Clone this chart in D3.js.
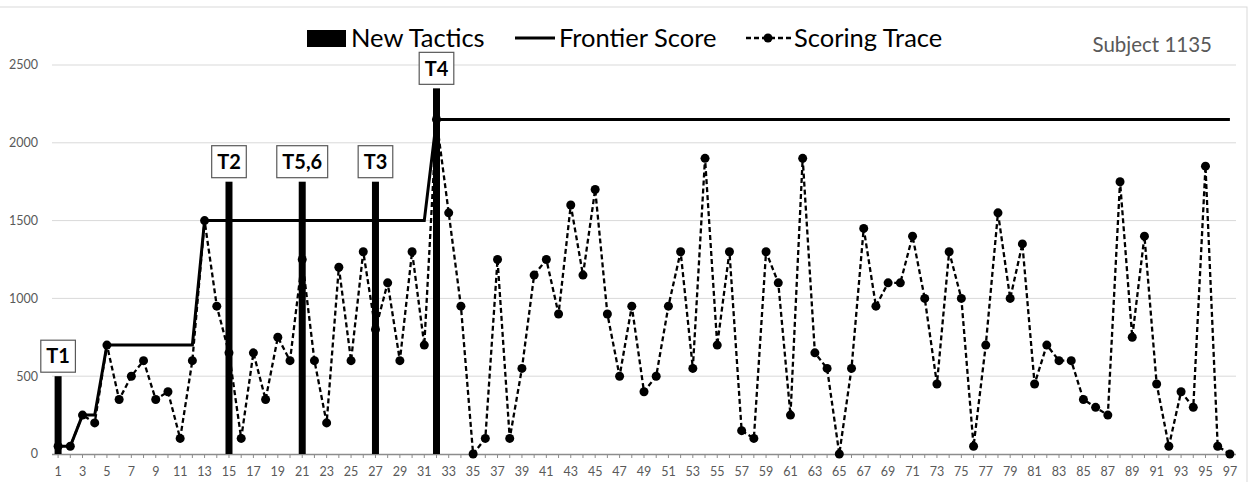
<!DOCTYPE html>
<html>
<head>
<meta charset="utf-8">
<script src="https://cdn.jsdelivr.net/npm/d3@7"></script>
<style>
  body { margin: 0; background: #fff; }
  svg { display: block; font-family: Lato, "Open Sans", sans-serif; }
</style>
</head>
<body>
<div id="chart"></div>
<script>
// trial numbers on the x axis
const trials = d3.range(1, 98);

// scoring trace (one value per trial)
const scores = [
  50, 50, 250, 200, 700, 350, 500, 600, 350, 400,
  100, 600, 1500, 950, 650, 100, 650, 350, 750, 600,
  1250, 600, 200, 1200, 600, 1300, 800, 1100, 600, 1300,
  700, 2150, 1550, 950, 0, 100, 1250, 100, 550, 1150,
  1250, 900, 1600, 1150, 1700, 900, 500, 950, 400, 500,
  950, 1300, 550, 1900, 700, 1300, 150, 100, 1300, 1100,
  250, 1900, 650, 550, 0, 550, 1450, 950, 1100, 1100,
  1400, 1000, 450, 1300, 1000, 50, 700, 1550, 1000, 1350,
  450, 700, 600, 600, 350, 300, 250, 1750, 750, 1400,
  450, 50, 400, 300, 1850, 50, 0
];

// frontier score (best so far)
const frontier = [
  50, 50, 250, 250, 700, 700, 700, 700, 700, 700,
  700, 700, 1500, 1500, 1500, 1500, 1500, 1500, 1500, 1500,
  1500, 1500, 1500, 1500, 1500, 1500, 1500, 1500, 1500, 1500,
  1500, 2150, 2150, 2150, 2150, 2150, 2150, 2150, 2150, 2150,
  2150, 2150, 2150, 2150, 2150, 2150, 2150, 2150, 2150, 2150,
  2150, 2150, 2150, 2150, 2150, 2150, 2150, 2150, 2150, 2150,
  2150, 2150, 2150, 2150, 2150, 2150, 2150, 2150, 2150, 2150,
  2150, 2150, 2150, 2150, 2150, 2150, 2150, 2150, 2150, 2150,
  2150, 2150, 2150, 2150, 2150, 2150, 2150, 2150, 2150, 2150,
  2150, 2150, 2150, 2150, 2150, 2150, 2150
];

// new tactics markers
const tacticTrials = [1, 15, 21, 27, 32];
const tacticHeights = [500, 1750, 1750, 1750, 2350];
const tacticLabels = ['T1', 'T2', 'T5,6', 'T3', 'T4'];

const yTicks = [0, 500, 1000, 1500, 2000, 2500];

const width = 1249, height = 482;
const margin = { left: 52, right: 13, top: 65, bottom: 28 };

const svg = d3.select('#chart')
  .append('svg')
  .attr('width', width)
  .attr('height', height);

// chart frame
svg.append('rect')
  .attr('x', -1).attr('y', 7)
  .attr('width', 1248).attr('height', 490)
  .attr('fill', 'none')
  .attr('stroke', '#d9d9d9');

const x = d3.scaleBand()
  .domain(trials)
  .range([margin.left, width - margin.right]);

const xc = d => x(d) + x.bandwidth() / 2;

const y = d3.scaleLinear()
  .domain([0, 2500])
  .range([height - margin.bottom, margin.top]);

// gridlines
svg.append('g')
  .selectAll('line')
  .data(yTicks.filter(d => d > 0))
  .enter()
  .append('line')
  .attr('x1', margin.left)
  .attr('x2', width - margin.right)
  .attr('y1', d => y(d))
  .attr('y2', d => y(d))
  .attr('stroke', '#d9d9d9')
  .attr('stroke-width', 1);

// y labels
svg.append('g')
  .selectAll('text')
  .data(yTicks)
  .enter()
  .append('text')
  .attr('x', 38)
  .attr('y', d => y(d))
  .attr('dy', '0.35em')
  .attr('text-anchor', 'end')
  .attr('font-size', 12.5)
  .attr('fill', '#595959')
  .text(d => d);

// x axis
const xAxis = d3.axisBottom(x)
  .tickSize(4)
  .tickFormat(d => d % 2 === 1 ? d : '');

const xg = svg.append('g')
  .attr('transform', `translate(0, ${y(0)})`)
  .call(xAxis);

xg.select('.domain')
  .attr('d', `M${margin.left},0.5H${width - margin.right}`)
  .attr('stroke', '#8c8c8c')
  .attr('stroke-width', 1.5);
xg.selectAll('.tick line').attr('stroke', '#8c8c8c');
xg.selectAll('.tick text')
  .attr('font-size', 12.5)
  .attr('fill', '#595959')
  .attr('font-family', 'Lato, "Open Sans", sans-serif')
  .attr('dy', '1.2em');

// frontier score
const frontierLine = d3.line()
  .x((d, i) => xc(trials[i]))
  .y(d => y(d));

svg.append('path')
  .datum(frontier)
  .attr('d', frontierLine)
  .attr('fill', 'none')
  .attr('stroke', '#000')
  .attr('stroke-width', 3);

// scoring trace
svg.append('path')
  .datum(scores)
  .attr('d', frontierLine)
  .attr('fill', 'none')
  .attr('stroke', '#000')
  .attr('stroke-width', 2.3)
  .attr('stroke-dasharray', '5,3');

svg.append('g')
  .selectAll('circle')
  .data(scores)
  .enter()
  .append('circle')
  .attr('cx', (d, i) => xc(trials[i]))
  .attr('cy', d => y(d))
  .attr('r', 4.5)
  .attr('fill', '#000');

// new tactics bars
const barW = 7;
const tactics = svg.append('g')
  .selectAll('g')
  .data(tacticTrials)
  .enter()
  .append('g');

tactics.append('rect')
  .attr('x', d => xc(d) - barW / 2)
  .attr('y', (d, i) => y(tacticHeights[i]))
  .attr('width', barW)
  .attr('height', (d, i) => y(0) - y(tacticHeights[i]))
  .attr('fill', '#000');

const labelText = tactics.append('text')
  .attr('x', d => xc(d))
  .attr('y', (d, i) => y(tacticHeights[i]) - 4 - 16)
  .attr('dy', '0.36em')
  .attr('text-anchor', 'middle')
  .attr('font-size', 20)
  .attr('font-weight', 'bold')
  .attr('fill', '#000')
  .text((d, i) => tacticLabels[i]);

labelText.each(function(d, i) {
  const w = this.getComputedTextLength() + 11;
  d3.select(this.parentNode).insert('rect', 'text')
    .attr('x', xc(d) - w / 2)
    .attr('y', y(tacticHeights[i]) - 4 - 32)
    .attr('width', w)
    .attr('height', 32)
    .attr('fill', '#fff')
    .attr('stroke', '#595959')
    .attr('stroke-width', 1.2);
});

// legend
const legend = svg.append('g').attr('font-size', 25.5).attr('fill', '#000');

legend.append('rect')
  .attr('x', 307).attr('y', 30)
  .attr('width', 39).attr('height', 17)
  .attr('fill', '#000');
legend.append('text')
  .attr('x', 351).attr('y', 38).attr('dy', '0.35em')
  .text('New Tactics');

legend.append('line')
  .attr('x1', 515).attr('x2', 555)
  .attr('y1', 38).attr('y2', 38)
  .attr('stroke', '#000').attr('stroke-width', 3);
legend.append('text')
  .attr('x', 559).attr('y', 38).attr('dy', '0.35em')
  .text('Frontier Score');

legend.append('line')
  .attr('x1', 746).attr('x2', 791)
  .attr('y1', 38).attr('y2', 38)
  .attr('stroke', '#000').attr('stroke-width', 2.3)
  .attr('stroke-dasharray', '5,3');
legend.append('circle')
  .attr('cx', 768).attr('cy', 38).attr('r', 4.5)
  .attr('fill', '#000');
legend.append('text')
  .attr('x', 794).attr('y', 38).attr('dy', '0.35em')
  .text('Scoring Trace');

svg.append('text')
  .attr('x', 1212).attr('y', 45).attr('dy', '0.35em')
  .attr('text-anchor', 'end')
  .attr('font-size', 20.5)
  .attr('fill', '#595959')
  .text('Subject 1135');
</script>
</body>
</html>
